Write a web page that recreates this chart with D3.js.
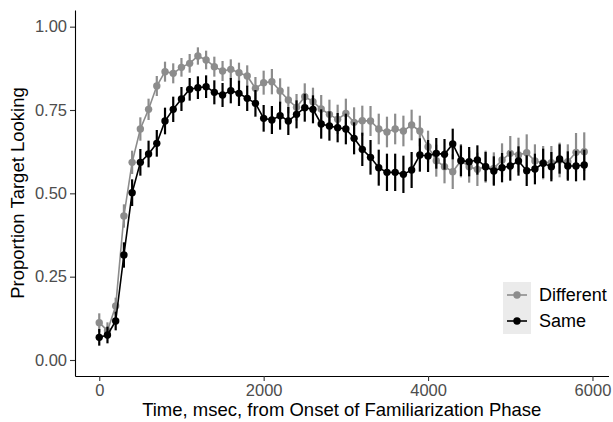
<!DOCTYPE html>
<html>
<head>
<meta charset="utf-8">
<script src="https://cdn.jsdelivr.net/npm/d3@7"></script>
<style>
  body { margin: 0; background: #fff; }
  svg { display: block; font-family: "Liberation Sans", Arial, sans-serif; }
</style>
</head>
<body>
<svg id="chart" width="613" height="422"></svg>
<script>
// time bins, msec
var times = d3.range(0, 6000, 100);

// proportion target looking, Different condition
var different = [0.112, 0.088, 0.162, 0.432, 0.593, 0.693, 0.752, 0.822, 0.865, 0.860,
                 0.878, 0.890, 0.912, 0.900, 0.880, 0.867, 0.872, 0.862, 0.852, 0.815,
                 0.832, 0.835, 0.807, 0.780, 0.758, 0.790, 0.775, 0.753, 0.737, 0.722,
                 0.740, 0.713, 0.718, 0.717, 0.693, 0.684, 0.693, 0.687, 0.705, 0.687,
                 0.640, 0.598, 0.580, 0.565, 0.598, 0.580, 0.572, 0.580, 0.575, 0.600,
                 0.620, 0.615, 0.622, 0.597, 0.592, 0.592, 0.600, 0.595, 0.623, 0.625];
var differentSe = [0.028, 0.025, 0.025, 0.035, 0.035, 0.035, 0.032, 0.030, 0.030, 0.030,
                   0.028, 0.028, 0.026, 0.028, 0.030, 0.030, 0.030, 0.030, 0.032, 0.034,
                   0.036, 0.038, 0.038, 0.040, 0.040, 0.040, 0.042, 0.042, 0.044, 0.044,
                   0.044, 0.045, 0.045, 0.045, 0.046, 0.046, 0.046, 0.046, 0.046, 0.046,
                   0.048, 0.048, 0.050, 0.052, 0.050, 0.048, 0.050, 0.048, 0.048, 0.050,
                   0.052, 0.052, 0.055, 0.050, 0.050, 0.050, 0.052, 0.052, 0.058, 0.058];

// proportion target looking, Same condition
var same = [0.068, 0.075, 0.117, 0.315, 0.502, 0.593, 0.618, 0.650, 0.717, 0.752,
            0.783, 0.812, 0.817, 0.820, 0.803, 0.795, 0.808, 0.800, 0.785, 0.770,
            0.725, 0.720, 0.733, 0.717, 0.737, 0.757, 0.752, 0.708, 0.702, 0.697,
            0.693, 0.665, 0.632, 0.608, 0.577, 0.563, 0.563, 0.557, 0.570, 0.615,
            0.612, 0.620, 0.617, 0.648, 0.598, 0.595, 0.600, 0.580, 0.567, 0.577,
            0.582, 0.597, 0.568, 0.573, 0.590, 0.580, 0.603, 0.582, 0.582, 0.585];
var sameSe = [0.025, 0.025, 0.028, 0.038, 0.040, 0.040, 0.040, 0.040, 0.040, 0.038,
              0.036, 0.034, 0.034, 0.034, 0.036, 0.036, 0.038, 0.038, 0.038, 0.040,
              0.040, 0.042, 0.042, 0.042, 0.042, 0.042, 0.042, 0.044, 0.044, 0.044,
              0.046, 0.048, 0.050, 0.052, 0.054, 0.056, 0.056, 0.056, 0.054, 0.050,
              0.048, 0.046, 0.046, 0.046, 0.046, 0.044, 0.044, 0.044, 0.044, 0.044,
              0.044, 0.044, 0.046, 0.046, 0.044, 0.044, 0.044, 0.044, 0.046, 0.046];

var xTicks = [0, 2000, 4000, 6000];
var yTicks = [0, 0.25, 0.5, 0.75, 1];

var series = [
  {name: "Different", color: "#8c8c8c", y: different, se: differentSe},
  {name: "Same", color: "#000000", y: same, se: sameSe}
];

var svg = d3.select("#chart");
var padL = 75, padR = 608.5, padT = 10, padB = 376;

var x = d3.scaleLinear().domain([-295, 6195]).range([padL, padR]);
var y = d3.scaleLinear().domain([-0.048, 1.05]).range([padB, padT]);

// axes
var xAxis = svg.append("g").attr("transform", "translate(0," + padB + ")")
  .call(d3.axisBottom(x).tickValues(xTicks).tickFormat(d3.format("d")).tickSize(5).tickPadding(3).tickSizeOuter(0));
var yAxis = svg.append("g").attr("transform", "translate(" + padL + ",0)")
  .call(d3.axisLeft(y).tickValues(yTicks).tickFormat(d3.format(".2f")).tickSize(5).tickPadding(3).tickSizeOuter(0));

[xAxis, yAxis].forEach(function(g) {
  g.select(".domain").attr("stroke", "#000").attr("stroke-width", 1.1);
  g.selectAll(".tick line").attr("stroke", "#333").attr("stroke-width", 1.1);
  g.selectAll(".tick text").attr("fill", "#4d4d4d").style("font-size", "16.5px");
});

// titles
svg.append("text")
  .attr("x", (padL + padR) / 2).attr("y", 416)
  .attr("text-anchor", "middle").style("font-size", "18.5px").attr("fill", "#000")
  .text("Time, msec, from Onset of Familiarization Phase");
svg.append("text")
  .attr("transform", "translate(24," + ((padT + padB) / 2) + ") rotate(-90)")
  .attr("text-anchor", "middle").style("font-size", "18.5px").attr("fill", "#000")
  .text("Proportion Target Looking");

// data
series.forEach(function(s) {
  var g = svg.append("g");
  var pts = times.map(function(t, i) { return {t: t, v: s.y[i], se: s.se[i]}; });

  g.selectAll("line.err").data(pts).enter().append("line")
    .attr("x1", function(d) { return x(d.t); })
    .attr("x2", function(d) { return x(d.t); })
    .attr("y1", function(d) { return y(d.v - d.se); })
    .attr("y2", function(d) { return y(d.v + d.se); })
    .attr("stroke", s.color).attr("stroke-width", 2.2);

  g.append("path").datum(pts)
    .attr("d", d3.line().x(function(d) { return x(d.t); }).y(function(d) { return y(d.v); }))
    .attr("fill", "none").attr("stroke", s.color).attr("stroke-width", 1.6);

  g.selectAll("circle").data(pts).enter().append("circle")
    .attr("cx", function(d) { return x(d.t); })
    .attr("cy", function(d) { return y(d.v); })
    .attr("r", 3.7).attr("fill", s.color);
});

// legend
var legend = svg.append("g");
series.forEach(function(s, i) {
  var ky = 282 + i * 26;
  legend.append("rect").attr("x", 503).attr("y", ky).attr("width", 28).attr("height", 26)
    .attr("fill", "#ebebeb");
  legend.append("line").attr("x1", 507).attr("x2", 527)
    .attr("y1", ky + 13).attr("y2", ky + 13)
    .attr("stroke", s.color).attr("stroke-width", 1.6);
  legend.append("circle").attr("cx", 517).attr("cy", ky + 13).attr("r", 3.7).attr("fill", s.color);
  legend.append("text").attr("x", 539).attr("y", ky + 13).attr("dy", "0.36em")
    .style("font-size", "18px").attr("fill", "#000").text(s.name);
});
</script>
</body>
</html>
